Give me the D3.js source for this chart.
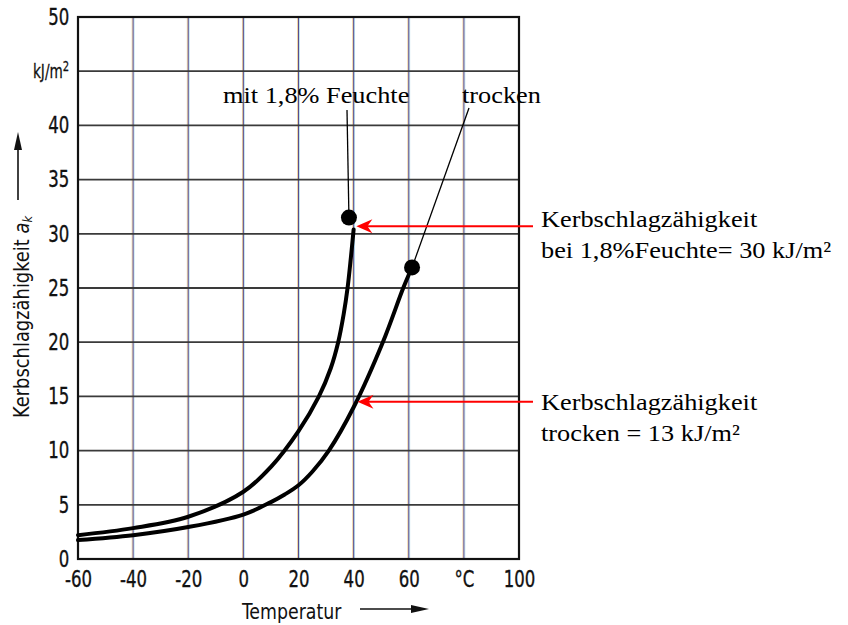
<!DOCTYPE html>
<html>
<head>
<meta charset="utf-8">
<script src="https://cdn.jsdelivr.net/npm/d3@7"></script>
<style>
  body { margin: 0; background: #fff; }
  svg { display: block; }
</style>
</head>
<body>
<svg id="chart"></svg>
<script>
// ---- data ----
let xTicks = [-60, -40, -20, 0, 20, 40, 60, 80, 100];
let xTickLabels = ['-60', '-40', '-20', '0', '20', '40', '60', '°C', '100'];
let yTicks = [0, 5, 10, 15, 20, 25, 30, 35, 40, 45, 50];
let yTickLabels = ['0', '5', '10', '15', '20', '25', '30', '35', '40', 'kJ/m2', '50'];

// curve "mit 1,8% Feuchte"
let wetTemp = [-60, -40, -20, 0, 10, 20, 27.4, 31.7, 34.4, 36.4, 37.8, 39, 40];
let wetValue = [2.2, 2.85, 3.9, 6.2, 8.5, 11.8, 15, 17.6, 20, 22.6, 25, 27.8, 30.4];

// curve "trocken"
let dryTemp = [-60, -40, -20, 0, 10, 15, 20, 25, 31, 40, 50.6, 58, 61];
let dryValue = [1.75, 2.2, 2.95, 4.1, 5.25, 5.95, 6.8, 8.05, 10, 14, 20, 25, 26.8];

// marker dots and labels
let dotTemp = [38.3, 61.2];
let dotValue = [31.5, 26.9];
let curveLabels = ['mit 1,8% Feuchte', 'trocken'];

// red arrows pointing at the curves
let arrowTemp = [41, 41.4];
let arrowValue = [30.7, 14.5];
let noteLines = [
  ['Kerbschlagzähigkeit', 'bei 1,8%Feuchte= 30 kJ/m²'],
  ['Kerbschlagzähigkeit', 'trocken = 13 kJ/m²']
];

function getConfig() {
  let width = 848;
  let height = 625;
  let margin = { top: 17, left: 78, right: 329, bottom: 66 };
  let bodyWidth = width - margin.left - margin.right;
  let bodyHeight = height - margin.top - margin.bottom;
  let container = d3.select('#chart').attr('width', width).attr('height', height);
  return { width, height, margin, bodyWidth, bodyHeight, container };
}

function getScales(config) {
  let { margin, bodyWidth, bodyHeight } = config;
  let xScale = d3.scaleLinear()
    .domain([-60, 100])
    .range([margin.left, margin.left + bodyWidth]);
  let yScale = d3.scaleLinear()
    .domain([0, 50])
    .range([margin.top + bodyHeight, margin.top]);
  return { xScale, yScale };
}

let condensed = '"DejaVu Sans Condensed", "DejaVu Sans", sans-serif';
let serif = '"Liberation Serif", "Times New Roman", serif';

function drawGrid(scales, config) {
  let { xScale, yScale } = scales;
  let { container, margin, bodyWidth, bodyHeight } = config;
  let top = margin.top, bottom = margin.top + bodyHeight;
  let left = margin.left, right = margin.left + bodyWidth;

  // vertical lines (the scan gives them coloured fringes)
  let vx = xTicks.slice(1, -1);
  let v = container.append('g');
  let fringes = [[-0.9, '#e0a848', 0.55], [0.9, '#6cc4e0', 0.5], [0, '#5a4c8c', 1]];
  fringes.forEach(f => {
    v.append('g').selectAll('line').data(vx).enter().append('line')
      .attr('x1', d => xScale(d) + f[0]).attr('x2', d => xScale(d) + f[0])
      .attr('y1', top).attr('y2', bottom)
      .attr('stroke', f[1]).attr('stroke-width', 1).attr('opacity', f[2]);
  });

  // horizontal lines
  container.append('g').selectAll('line').data(yTicks.slice(1, -1)).enter().append('line')
    .attr('x1', left).attr('x2', right)
    .attr('y1', d => yScale(d)).attr('y2', d => yScale(d))
    .attr('stroke', '#3a3a3a').attr('stroke-width', 1.8);

  // frame
  container.append('rect')
    .attr('x', left).attr('y', top)
    .attr('width', bodyWidth).attr('height', bodyHeight)
    .attr('fill', 'none').attr('stroke', '#111').attr('stroke-width', 2.2);
}

function drawAxes(scales, config) {
  let { xScale, yScale } = scales;
  let { container, margin, bodyHeight } = config;

  let axisX = d3.axisBottom(xScale)
    .tickValues(xTicks)
    .tickSize(0)
    .tickPadding(12)
    .tickFormat((d, i) => xTickLabels[i]);
  let gx = container.append('g')
    .attr('transform', `translate(0,${margin.top + bodyHeight})`)
    .call(axisX);
  gx.select('.domain').remove();
  gx.selectAll('text')
    .attr('font-family', condensed).attr('font-size', 23).attr('fill', '#111')
    .attr('stroke', '#111').attr('stroke-width', 0.35)
    .attr('transform', 'scale(0.8,1)');

  let axisY = d3.axisLeft(yScale)
    .tickValues(yTicks)
    .tickSize(0)
    .tickPadding(11)
    .tickFormat((d, i) => yTickLabels[i]);
  let gy = container.append('g')
    .attr('transform', `translate(${margin.left},0)`)
    .call(axisY);
  gy.select('.domain').remove();
  gy.selectAll('text')
    .attr('font-family', condensed).attr('font-size', 23).attr('fill', '#111')
    .attr('stroke', '#111').attr('stroke-width', 0.35)
    .attr('transform', 'scale(0.8,1)');
  gy.selectAll('text').filter(d => d === 45)
    .attr('font-size', 19)
    .attr('stroke-width', 0.25)
    .text('kJ/m')
    .append('tspan').attr('dy', '-0.45em').attr('font-size', 14).text('2');

  // axis titles
  container.append('text')
    .attr('transform', 'translate(29,418) rotate(-90) scale(0.97,1)')
    .attr('font-family', condensed).attr('font-size', 20.5).attr('fill', '#111')
    .text('Kerbschlagzähigkeit ')
    .append('tspan').attr('font-style', 'italic').text('a')
    .append('tspan').attr('font-size', 13).attr('dy', 3).text('k');

  container.append('text')
    .attr('transform', 'translate(242,619) scale(0.92,1)')
    .attr('font-family', condensed).attr('font-size', 21).attr('fill', '#111')
    .text('Temperatur');

  // little arrows next to the titles
  container.append('line').attr('x1', 18).attr('x2', 18).attr('y1', 200).attr('y2', 146)
    .attr('stroke', '#111').attr('stroke-width', 1.6);
  container.append('path').attr('d', 'M18,132 L14,150 L22,150 Z').attr('fill', '#111');
  container.append('line').attr('x1', 360).attr('x2', 415).attr('y1', 609).attr('y2', 609)
    .attr('stroke', '#111').attr('stroke-width', 1.6);
  container.append('path').attr('d', 'M429,609 L411,605 L411,613 Z').attr('fill', '#111');
}

function drawCurves(scales, config) {
  let { xScale, yScale } = scales;
  let { container } = config;
  let line = d3.line()
    .x(d => xScale(d[0]))
    .y(d => yScale(d[1]))
    .curve(d3.curveCatmullRom.alpha(0.5));

  let series = [
    d3.zip(wetTemp, wetValue),
    d3.zip(dryTemp, dryValue)
  ];
  container.append('g').selectAll('path').data(series).enter().append('path')
    .attr('d', d => line(d))
    .attr('fill', 'none')
    .attr('stroke', '#000')
    .attr('stroke-width', 4)
    .attr('stroke-linecap', 'round');
}

function drawAnnotations(scales, config) {
  let { xScale, yScale } = scales;
  let { container } = config;

  // leader lines from the labels to the dots
  let labelAnchor = [[347, 110], [469, 108]];
  container.append('g').selectAll('line').data(labelAnchor).enter().append('line')
    .attr('x1', d => d[0]).attr('y1', d => d[1])
    .attr('x2', (d, i) => xScale(dotTemp[i])).attr('y2', (d, i) => yScale(dotValue[i]))
    .attr('stroke', '#000').attr('stroke-width', 1.3);

  container.append('g').selectAll('circle').data(dotTemp).enter().append('circle')
    .attr('cx', d => xScale(d))
    .attr('cy', (d, i) => yScale(dotValue[i]))
    .attr('r', 8)
    .attr('fill', '#000');

  let labelPos = [[223, 103], [462, 103]];
  container.append('g').selectAll('text').data(curveLabels).enter().append('text')
    .attr('transform', (d, i) => `translate(${labelPos[i][0]},${labelPos[i][1]}) scale(1.12,1)`)
    .attr('font-family', serif).attr('font-size', 23.5).attr('fill', '#000')
    .text(d => d);

  // red arrows
  let arrowStart = 533;
  let arrows = container.append('g');
  arrowTemp.forEach((t, i) => {
    let tx = xScale(t), ty = yScale(arrowValue[i]);
    arrows.append('line')
      .attr('x1', arrowStart).attr('x2', tx + 8)
      .attr('y1', ty).attr('y2', ty)
      .attr('stroke', '#f00').attr('stroke-width', 2);
    arrows.append('path')
      .attr('d', `M${tx},${ty} L${tx + 16},${ty - 7} L${tx + 11},${ty} L${tx + 16},${ty + 7} Z`)
      .attr('fill', '#f00');
  });

  let notePos = [[541, 227], [541, 410]];
  noteLines.forEach((lines, i) => {
    let g = container.append('g')
      .attr('transform', `translate(${notePos[i][0]},${notePos[i][1]}) scale(1.12,1)`);
    g.selectAll('text').data(lines).enter().append('text')
      .attr('x', 0).attr('y', (d, j) => j * 31)
      .attr('font-family', serif).attr('font-size', 23.5).attr('fill', '#000')
      .text(d => d);
  });
}

function drawChart() {
  let config = getConfig();
  let scales = getScales(config);
  drawGrid(scales, config);
  drawCurves(scales, config);
  drawAxes(scales, config);
  drawAnnotations(scales, config);
}

drawChart();
</script>
</body>
</html>
